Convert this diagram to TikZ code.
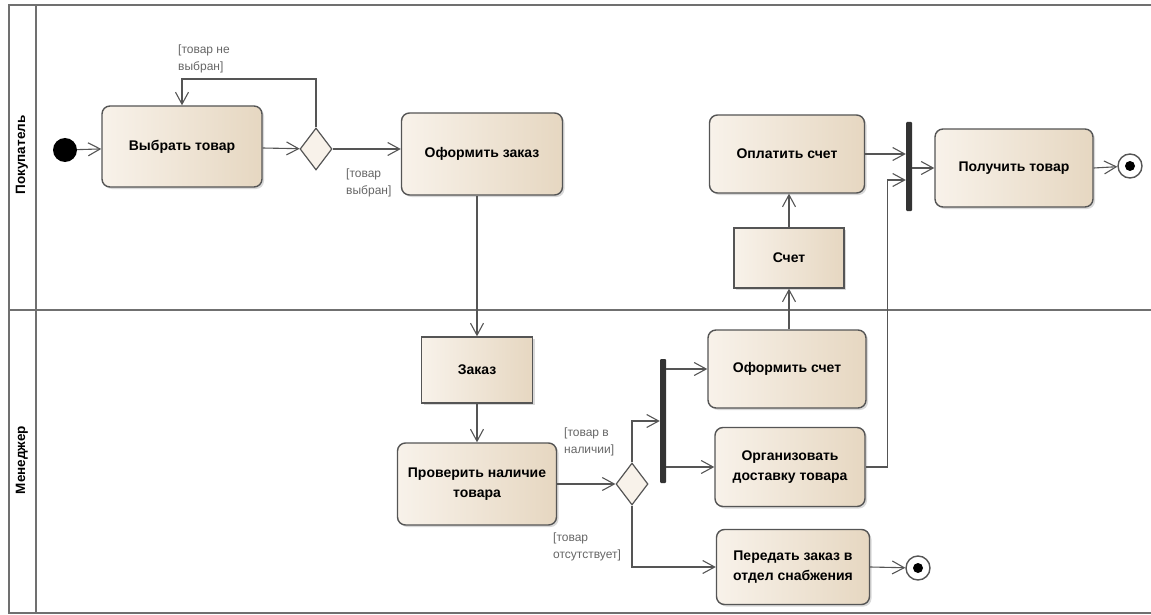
\documentclass[tikz,border=0pt]{standalone}
\usepackage{fontspec}
\setmainfont{Liberation Sans}
\usetikzlibrary{arrows.meta,shapes.geometric,shadows}
\definecolor{creamA}{HTML}{F8F2EA}
\definecolor{creamB}{HTML}{E6D7C1}
\definecolor{edgec}{HTML}{555555}
\definecolor{framec}{HTML}{707070}
\tikzset{
  action/.style={rectangle, rounded corners=8pt, draw=edgec, line width=1.4pt,
    left color=creamA, right color=creamB,
    drop shadow={shadow xshift=2pt, shadow yshift=-2pt, opacity=0.3},
    font=\bfseries\fontsize{14}{20}\selectfont, align=center, inner sep=0pt},
  objectbox/.style={action, rounded corners=0pt},
  decision/.style={diamond, draw=edgec, line width=1.2pt, fill=creamA,
    minimum width=32pt, minimum height=42pt, inner sep=0pt},
  syncbar/.style={rectangle, fill=black!80, draw=none, minimum width=6pt,
    inner sep=0pt, rounded corners=1pt},
  startnode/.style={circle, fill=black, minimum size=24pt, inner sep=0pt},
  endnode/.style={circle, draw=edgec, fill=white, line width=1.4pt,
    minimum size=24pt, inner sep=0pt,
    path picture={\fill[black] (path picture bounding box.center) circle (5pt);}},
  flow/.style={draw=edgec, line width=1.1pt,
    -{Straight Barb[length=12pt,width=13pt,line width=1.1pt]}},
  guard/.style={font=\fontsize{12}{16.5}\selectfont, text=black!60,
    align=left, inner sep=0pt, anchor=north west},
  lanelabel/.style={font=\bfseries\fontsize{13.5}{15}\selectfont, rotate=90},
  lanebox/.style={draw=framec, line width=1.6pt},
}
\begin{document}
\begin{tikzpicture}[x=1pt,y=-1pt]
\useasboundingbox (0,0) rectangle (1151,615);

% swimlane frame
\draw[lanebox] (1151,5) -- (9,5) -- (9,613) -- (1151,613);
\draw[lanebox] (36,5) -- (36,613);
\draw[lanebox] (9,310) -- (1151,310);
\node[lanelabel] (laneA) at (22,155) {Покупатель};
\node[lanelabel] (laneB) at (22,460) {Менеджер};

% customer lane
\node[startnode] (init) at (65,150) {};
\node[action, minimum width=160pt, minimum height=81pt] (vyb) at (182,146.5) {Выбрать товар};
\node[decision] (d1) at (316,149) {};
\node[action, minimum width=161pt, minimum height=82pt] (oz) at (482,154) {Оформить заказ};
\node[action, minimum width=155pt, minimum height=78pt] (opl) at (787,154) {Оплатить счет};
\node[objectbox, minimum width=110pt, minimum height=60pt] (sch) at (789,258) {Счет};
\node[syncbar, minimum height=89pt] (join) at (909,166.5) {};
\node[action, minimum width=158pt, minimum height=78pt] (pol) at (1014,168) {Получить товар};
\node[endnode] (f1) at (1130,166) {};

% manager lane
\node[objectbox, minimum width=111pt, minimum height=66pt] (zak) at (477,370) {Заказ};
\node[action, minimum width=159pt, minimum height=82pt] (prov) at (477,484) {Проверить наличие\\товара};
\node[decision] (d2) at (632,484) {};
\node[syncbar, minimum height=124pt] (fork) at (663,421) {};
\node[action, minimum width=158pt, minimum height=78pt] (os) at (787,369) {Оформить счет};
\node[action, minimum width=150pt, minimum height=79pt] (org) at (790,467) {Организовать\\доставку товара};
\node[action, minimum width=153pt, minimum height=75pt] (per) at (793,567) {Передать заказ в\\отдел снабжения};
\node[endnode] (f2) at (918,568) {};

% guards
\node[guard] (g1) at (178,45) {[товар не\\выбран]};
\node[guard] (g2) at (346,169) {[товар\\выбран]};
\node[guard] (g3) at (564,428) {[товар в\\наличии]};
\node[guard] (g4) at (553,533) {[товар\\отсутствует]};

% helper points
\coordinate (loopy) at (0,79);
\coordinate (jin) at ([yshift=-13.5pt]join.west);

% flows
\draw[flow] (init) -- (vyb);
\draw[flow] (vyb) -- (d1);
\draw[flow] (d1.north) |- (vyb.north |- loopy) -- (vyb.north);
\draw[flow] (d1.east) -- (d1.east -| oz.west);
\draw[flow] (zak.north |- oz.south) -- (zak.north);
\draw[flow] (zak.south) -- (prov.north);
\draw[flow] (prov.east) -- (d2.west);
\draw[flow] (d2.north) |- (fork.west);
\draw[flow] (os.west -| fork.east) -- (os.west);
\draw[flow] (org.west -| fork.east) -- (org.west);
\draw[flow] (d2.south) |- (per.west);
\draw[flow] (per.east) -- (f2);
\draw[flow] (sch.south |- os.north) -- (sch.south);
\draw[flow] (sch.north) -- (sch.north |- opl.south);
\draw[flow] (opl.east) -- (opl.east -| join.west);
\draw[flow] (org.east) -- ++(22,0) |- (jin);
\draw[flow] (join.east |- pol.west) -- (pol.west);
\draw[flow] (pol.east) -- (f1);
\end{tikzpicture}
\end{document}
